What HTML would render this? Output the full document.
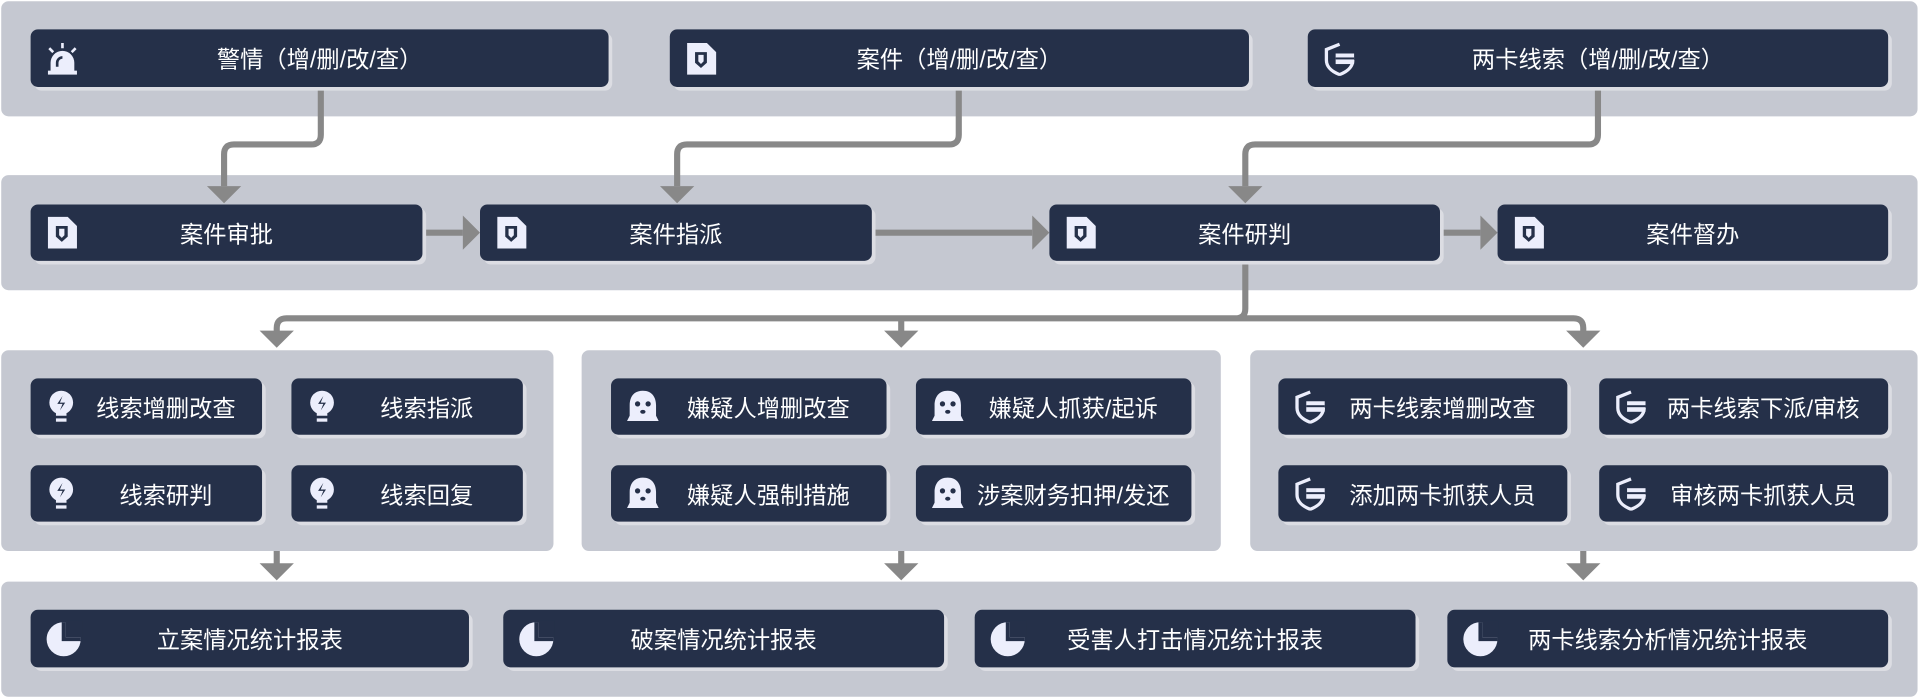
<!DOCTYPE html>
<html><head><meta charset="utf-8"><style>
html,body{margin:0;padding:0;background:#fff;overflow:hidden}
#w{position:absolute;left:0;top:0;width:1568px;height:570px;transform:scale(1.22449);transform-origin:0 0}
.p{position:absolute;background:#c5c8d1;border-radius:6px}
.n{position:absolute;box-sizing:border-box;background:#253049;border-radius:6px;box-shadow:3px 3px 0 #dcdde3;color:#fff;font-family:"Liberation Sans","Noto Sans CJK SC",sans-serif;font-size:19px;display:flex;align-items:center;justify-content:center}
.n.s{padding-left:32px}
.n svg{position:absolute;left:12px;top:50%;transform:translateY(-50%)}
svg.c{position:absolute;left:0;top:0}
</style></head><body><div id="w">
<div class="p" style="left:1px;top:1px;width:1565px;height:94px"></div>
<div class="p" style="left:1px;top:143px;width:1565px;height:94px"></div>
<div class="p" style="left:1px;top:286px;width:451px;height:164px"></div>
<div class="p" style="left:475px;top:286px;width:522px;height:164px"></div>
<div class="p" style="left:1021px;top:286px;width:545px;height:164px"></div>
<div class="p" style="left:1px;top:475px;width:1565px;height:94px"></div>

<svg class="c" width="1568" height="570" fill="none" stroke="#888" stroke-width="5">
<path d="M262 71V110q0 8-8 8H191q-8 0-8 8V152"/>
<path d="M783 71V110q0 8-8 8H561q-8 0-8 8V152"/>
<path d="M1305 71V110q0 8-8 8H1025q-8 0-8 8V152"/>
<path d="M345 190H378M712 190H843M1176 190H1209"/>
<path d="M1017 213V252q0 8-8 8H234q-8 0-8 8V272M736 260V272M1009 260q8 0 8 0H1285q8 0 8 8V272"/>
<path d="M226 450V462M736 450V462M1293 450V462"/>
<g fill="#888" stroke="none">
<path d="M169 152h28l-14 14z"/><path d="M539 152h28l-14 14z"/><path d="M1003 152h28l-14 14z"/>
<path d="M378 176v28l14-14z"/><path d="M843 176v28l14-14z"/><path d="M1209 176v28l14-14z"/>
<path d="M212 270h28l-14 14z"/><path d="M722 270h28l-14 14z"/><path d="M1279 270h28l-14 14z"/>
<path d="M212 460h28l-14 14z"/><path d="M722 460h28l-14 14z"/><path d="M1279 460h28l-14 14z"/>
</g></svg>

<div class="n" style="left:25px;top:24px;width:472px;height:47px"><svg width="28" height="28" viewBox="0 0 26 26"><path d="M4 24V16a9 9 0 0 1 18 0v8z" fill="#eceefc"/><rect x="2" y="22" width="22" height="3" fill="#eceefc"/><path d="M13 1v4M3 5l3 3M23 5l-3 3" stroke="#eceefc" stroke-width="2"/><path d="M9 19v-3a4 4 0 0 1 4-4" stroke="#253049" stroke-width="2" fill="none"/></svg>警情（增/删/改/查）</div>
<div class="n" style="left:547px;top:24px;width:473px;height:47px"><svg width="28" height="28" viewBox="0 0 26 26"><path d="M2 1h15l7 7v17H2z" fill="#eceefc"/><path d="M8 8h9v8l-4.5 4L8 16z" fill="#253049"/><path d="M10.5 10h4v5l-2 2-2-2z" fill="#eceefc"/></svg>案件（增/删/改/查）</div>
<div class="n" style="left:1068px;top:24px;width:474px;height:47px"><svg width="28" height="28" viewBox="0 0 26 26"><path d="M13 2L3 6v8c0 6 5 9 10 11 5-2 10-5 10-11" fill="none" stroke="#eceefc" stroke-width="2.5"/><rect x="10" y="9" width="14" height="8" fill="#eceefc"/><rect x="10" y="12" width="14" height="1.5" fill="#253049"/></svg>两卡线索（增/删/改/查）</div>

<div class="n" style="left:25px;top:167px;width:320px;height:46px"><svg width="28" height="28" viewBox="0 0 26 26"><path d="M2 1h15l7 7v17H2z" fill="#eceefc"/><path d="M8 8h9v8l-4.5 4L8 16z" fill="#253049"/><path d="M10.5 10h4v5l-2 2-2-2z" fill="#eceefc"/></svg>案件审批</div>
<div class="n" style="left:392px;top:167px;width:320px;height:46px"><svg width="28" height="28" viewBox="0 0 26 26"><path d="M2 1h15l7 7v17H2z" fill="#eceefc"/><path d="M8 8h9v8l-4.5 4L8 16z" fill="#253049"/><path d="M10.5 10h4v5l-2 2-2-2z" fill="#eceefc"/></svg>案件指派</div>
<div class="n" style="left:857px;top:167px;width:319px;height:46px"><svg width="28" height="28" viewBox="0 0 26 26"><path d="M2 1h15l7 7v17H2z" fill="#eceefc"/><path d="M8 8h9v8l-4.5 4L8 16z" fill="#253049"/><path d="M10.5 10h4v5l-2 2-2-2z" fill="#eceefc"/></svg>案件研判</div>
<div class="n" style="left:1223px;top:167px;width:319px;height:46px"><svg width="28" height="28" viewBox="0 0 26 26"><path d="M2 1h15l7 7v17H2z" fill="#eceefc"/><path d="M8 8h9v8l-4.5 4L8 16z" fill="#253049"/><path d="M10.5 10h4v5l-2 2-2-2z" fill="#eceefc"/></svg>案件督办</div>

<div class="n s" style="left:25px;top:309px;width:189px;height:46px"><svg width="26" height="28" viewBox="0 0 24 26"><circle cx="12" cy="10" r="9" fill="#eceefc"/><path d="M8 17h8v3H8z" fill="#eceefc"/><rect x="8" y="22" width="8" height="2.5" fill="#eceefc"/><path d="M13 5l-4 6h4l-2 5 4-6h-4z" fill="#253049"/></svg>线索增删改查</div>
<div class="n s" style="left:238px;top:309px;width:189px;height:46px"><svg width="26" height="28" viewBox="0 0 24 26"><circle cx="12" cy="10" r="9" fill="#eceefc"/><path d="M8 17h8v3H8z" fill="#eceefc"/><rect x="8" y="22" width="8" height="2.5" fill="#eceefc"/><path d="M13 5l-4 6h4l-2 5 4-6h-4z" fill="#253049"/></svg>线索指派</div>
<div class="n s" style="left:25px;top:380px;width:189px;height:46px"><svg width="26" height="28" viewBox="0 0 24 26"><circle cx="12" cy="10" r="9" fill="#eceefc"/><path d="M8 17h8v3H8z" fill="#eceefc"/><rect x="8" y="22" width="8" height="2.5" fill="#eceefc"/><path d="M13 5l-4 6h4l-2 5 4-6h-4z" fill="#253049"/></svg>线索研判</div>
<div class="n s" style="left:238px;top:380px;width:189px;height:46px"><svg width="26" height="28" viewBox="0 0 24 26"><circle cx="12" cy="10" r="9" fill="#eceefc"/><path d="M8 17h8v3H8z" fill="#eceefc"/><rect x="8" y="22" width="8" height="2.5" fill="#eceefc"/><path d="M13 5l-4 6h4l-2 5 4-6h-4z" fill="#253049"/></svg>线索回复</div>

<div class="n s" style="left:499px;top:309px;width:225px;height:46px"><svg width="28" height="28" viewBox="0 0 26 26"><path d="M13 1C6 1 3 6 3 12v8l-2 4h24l-2-4v-8c0-6-3-11-10-11z" fill="#eceefc"/><circle cx="9" cy="11" r="2" fill="#253049"/><circle cx="17" cy="11" r="2" fill="#253049"/><ellipse cx="13" cy="17" rx="2" ry="1.5" fill="#253049"/></svg>嫌疑人增删改查</div>
<div class="n s" style="left:748px;top:309px;width:225px;height:46px"><svg width="28" height="28" viewBox="0 0 26 26"><path d="M13 1C6 1 3 6 3 12v8l-2 4h24l-2-4v-8c0-6-3-11-10-11z" fill="#eceefc"/><circle cx="9" cy="11" r="2" fill="#253049"/><circle cx="17" cy="11" r="2" fill="#253049"/><ellipse cx="13" cy="17" rx="2" ry="1.5" fill="#253049"/></svg>嫌疑人抓获/起诉</div>
<div class="n s" style="left:499px;top:380px;width:225px;height:46px"><svg width="28" height="28" viewBox="0 0 26 26"><path d="M13 1C6 1 3 6 3 12v8l-2 4h24l-2-4v-8c0-6-3-11-10-11z" fill="#eceefc"/><circle cx="9" cy="11" r="2" fill="#253049"/><circle cx="17" cy="11" r="2" fill="#253049"/><ellipse cx="13" cy="17" rx="2" ry="1.5" fill="#253049"/></svg>嫌疑人强制措施</div>
<div class="n s" style="left:748px;top:380px;width:225px;height:46px"><svg width="28" height="28" viewBox="0 0 26 26"><path d="M13 1C6 1 3 6 3 12v8l-2 4h24l-2-4v-8c0-6-3-11-10-11z" fill="#eceefc"/><circle cx="9" cy="11" r="2" fill="#253049"/><circle cx="17" cy="11" r="2" fill="#253049"/><ellipse cx="13" cy="17" rx="2" ry="1.5" fill="#253049"/></svg>涉案财务扣押/发还</div>

<div class="n s" style="left:1044px;top:309px;width:236px;height:46px"><svg width="28" height="28" viewBox="0 0 26 26"><path d="M13 2L3 6v8c0 6 5 9 10 11 5-2 10-5 10-11" fill="none" stroke="#eceefc" stroke-width="2.5"/><rect x="10" y="9" width="14" height="8" fill="#eceefc"/><rect x="10" y="12" width="14" height="1.5" fill="#253049"/></svg>两卡线索增删改查</div>
<div class="n s" style="left:1306px;top:309px;width:236px;height:46px"><svg width="28" height="28" viewBox="0 0 26 26"><path d="M13 2L3 6v8c0 6 5 9 10 11 5-2 10-5 10-11" fill="none" stroke="#eceefc" stroke-width="2.5"/><rect x="10" y="9" width="14" height="8" fill="#eceefc"/><rect x="10" y="12" width="14" height="1.5" fill="#253049"/></svg>两卡线索下派/审核</div>
<div class="n s" style="left:1044px;top:380px;width:236px;height:46px"><svg width="28" height="28" viewBox="0 0 26 26"><path d="M13 2L3 6v8c0 6 5 9 10 11 5-2 10-5 10-11" fill="none" stroke="#eceefc" stroke-width="2.5"/><rect x="10" y="9" width="14" height="8" fill="#eceefc"/><rect x="10" y="12" width="14" height="1.5" fill="#253049"/></svg>添加两卡抓获人员</div>
<div class="n s" style="left:1306px;top:380px;width:236px;height:46px"><svg width="28" height="28" viewBox="0 0 26 26"><path d="M13 2L3 6v8c0 6 5 9 10 11 5-2 10-5 10-11" fill="none" stroke="#eceefc" stroke-width="2.5"/><rect x="10" y="9" width="14" height="8" fill="#eceefc"/><rect x="10" y="12" width="14" height="1.5" fill="#253049"/></svg>审核两卡抓获人员</div>

<div class="n" style="left:25px;top:498px;width:358px;height:47px"><svg width="30" height="30" viewBox="0 0 28 28"><circle cx="14" cy="14" r="13" fill="#eceefc"/><path d="M14 1v13h13" fill="none" stroke="#253049" stroke-width="3"/><rect x="15.5" y="0" width="13" height="12.5" fill="#253049"/></svg>立案情况统计报表</div>
<div class="n" style="left:411px;top:498px;width:360px;height:47px"><svg width="30" height="30" viewBox="0 0 28 28"><circle cx="14" cy="14" r="13" fill="#eceefc"/><path d="M14 1v13h13" fill="none" stroke="#253049" stroke-width="3"/><rect x="15.5" y="0" width="13" height="12.5" fill="#253049"/></svg>破案情况统计报表</div>
<div class="n" style="left:796px;top:498px;width:360px;height:47px"><svg width="30" height="30" viewBox="0 0 28 28"><circle cx="14" cy="14" r="13" fill="#eceefc"/><path d="M14 1v13h13" fill="none" stroke="#253049" stroke-width="3"/><rect x="15.5" y="0" width="13" height="12.5" fill="#253049"/></svg>受害人打击情况统计报表</div>
<div class="n" style="left:1182px;top:498px;width:360px;height:47px"><svg width="30" height="30" viewBox="0 0 28 28"><circle cx="14" cy="14" r="13" fill="#eceefc"/><path d="M14 1v13h13" fill="none" stroke="#253049" stroke-width="3"/><rect x="15.5" y="0" width="13" height="12.5" fill="#253049"/></svg>两卡线索分析情况统计报表</div>
</div></body></html>
